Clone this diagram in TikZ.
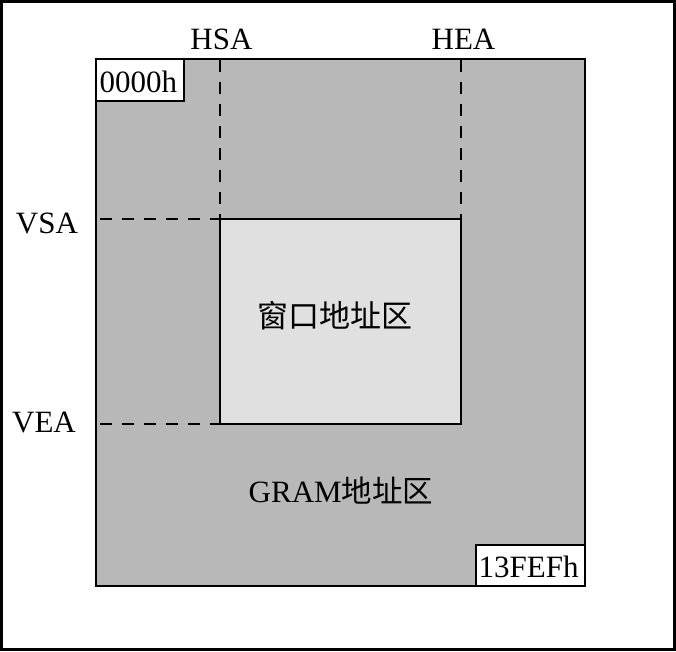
\documentclass[tikz,border=0pt]{standalone}
\usepackage{fontspec}
\setmainfont{Liberation Serif}
\newfontfamily\cjk{Noto Sans CJK SC}
\definecolor{gramgray}{RGB}{184,184,184}
\definecolor{wingray}{RGB}{224,224,224}
\begin{document}
\begin{tikzpicture}[x=1pt,y=-1pt,
  lbl/.style={inner sep=0pt,font=\fontsize{31}{36}\selectfont},
  frame/.style={draw=black,line width=2pt},
  guide/.style={draw=black,line width=1.6pt,dash pattern=on 12pt off 10pt},
  addrbox/.style={draw=black,line width=2pt,fill=white}]
\useasboundingbox (0,0) rectangle (676,651);
\draw[line width=3pt] (1.5,1.5) rectangle (674.5,649.5);
% GRAM area
\draw[frame,fill=gramgray] (96,59) rectangle (585,586);
% window area
\draw[frame,fill=wingray] (220,219) rectangle (461,424);
\coordinate (hs) at (220,219);
\coordinate (he) at (461,219);
\coordinate (ve) at (220,424);
\coordinate (hsTop) at (220,60);
\coordinate (heTop) at (461,60);
\coordinate (vsL) at (100,219);
\coordinate (veL) at (100,424);
\draw[guide] (hsTop) -- (hs);
\draw[guide] (heTop) -- (he);
\draw[guide] (vsL) -- (hs);
\draw[guide] (veL) -- (ve);
% address boxes
\draw[addrbox] (96,59) rectangle (184,101);
\draw[addrbox] (476,545) rectangle (585,586);
\node[lbl,anchor=base west] (a0) at (99.5,92) {0000h};
\node[lbl,anchor=base west] (a1) at (478.5,577) {13FEFh};
% labels
\node[lbl,anchor=base] (hsa) at (221.5,49) {HSA};
\node[lbl,anchor=base] (hea) at (463.5,49) {HEA};
\node[lbl,anchor=base] (vsa) at (47,233) {VSA};
\node[lbl,anchor=base] (vea) at (44,432) {VEA};
\node[lbl,font=\fontsize{31}{36}\selectfont\cjk] (win) at (334.5,316) {窗口地址区};
\node[lbl] (gram) at (341,491) {GRAM{\cjk\fontsize{30.5}{36}\selectfont 地址区}};
\end{tikzpicture}
\end{document}
